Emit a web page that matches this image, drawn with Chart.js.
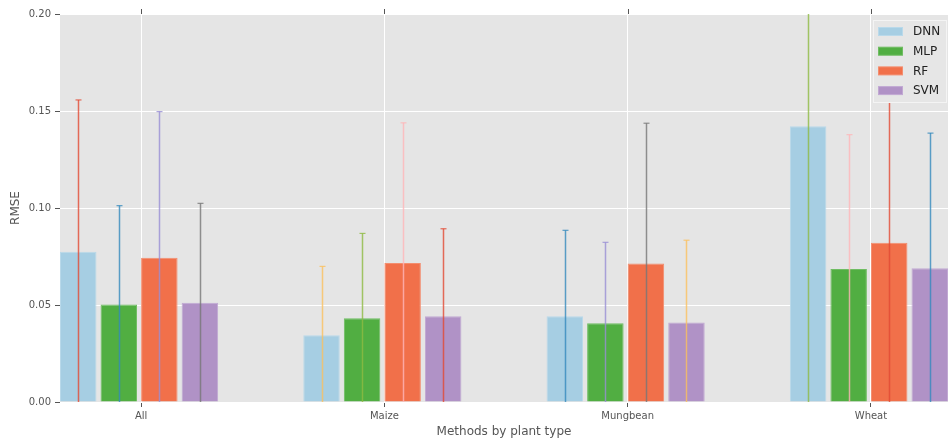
<!DOCTYPE html>
<html>
<head>
<meta charset="utf-8">
<script src="https://cdn.jsdelivr.net/npm/chart.js@4.4.1/dist/chart.umd.min.js"></script>
<style>
  html, body { margin: 0; padding: 0; background: #ffffff; }
  #wrap { width: 948px; height: 442px; position: relative; }
</style>
</head>
<body>
<div id="wrap"><canvas id="c" width="948" height="442"></canvas></div>
<script>
// ---- data ----
const categories = ['All', 'Maize', 'Mungbean', 'Wheat'];
const seriesNames = ['DNN', 'MLP', 'RF', 'SVM'];
const dnn = [0.0775, 0.0344, 0.0442, 0.1422];
const mlp = [0.0503, 0.0432, 0.0406, 0.0685];
const rf  = [0.0744, 0.0716, 0.0714, 0.0821];
const svm = [0.0511, 0.0442, 0.0410, 0.0690];
const dnnErr = [0.0782, 0.0355, 0.0443, 0.1450];
const mlpErr = [0.0509, 0.0437, 0.0417, 0.0693];
const rfErr  = [0.0753, 0.0723, 0.0723, 0.0830];
const svmErr = [0.0513, 0.0451, 0.0424, 0.0696];
const yTicks = [0.00, 0.05, 0.10, 0.15, 0.20];

// ---- styles ----
const fillColors = ['#a6cee3', '#51ae42', '#f1704a', '#b092c6'];
const edgeColors = ['#b9d9ea', '#6fbd62', '#f48d6e', '#c1a8d3'];
const errCycle = ['#E24A33', '#348ABD', '#988ED5', '#777777', '#FBC15E', '#8EBA42', '#FFB5B8'];
const values = [dnn, mlp, rf, svm];
const errors = [dnnErr, mlpErr, rfErr, svmErr];
const slot = 1 / 6;       // spacing between bars in a group (axis units)
const half = 0.075;       // half a bar width (axis units)

const datasets = seriesNames.map((name, k) => ({
  label: name,
  data: categories.map((c, i) => ({ x: i + k * slot + half, y: values[k][i] })),
  backgroundColor: fillColors[k],
  borderColor: edgeColors[k],
  borderWidth: 1,
  grouped: false,
  categoryPercentage: 1.0,
  barPercentage: 0.9
}));

const bgPlugin = {
  id: 'bg',
  beforeDraw(chart) {
    const { ctx, chartArea: a } = chart;
    ctx.save();
    ctx.fillStyle = '#ffffff';
    ctx.fillRect(0, 0, chart.width, chart.height);
    ctx.fillStyle = '#e5e5e5';
    ctx.fillRect(a.left, a.top, a.right - a.left, a.bottom - a.top);
    ctx.restore();
  }
};

const overlayPlugin = {
  id: 'overlay',
  afterDatasetsDraw(chart) {
    const { ctx, chartArea: a } = chart;
    const ys = chart.scales.y;
    ctx.save();
    ctx.beginPath();
    ctx.rect(a.left, a.top, a.right - a.left, a.bottom - a.top);
    ctx.clip();
    let n = 0;
    categories.forEach((c, i) => {
      seriesNames.forEach((s, k) => {
        const el = chart.getDatasetMeta(k).data[i];
        const x = Math.round(el.x) + 0.5;
        const v = values[k][i], e = errors[k][i];
        const yTop = ys.getPixelForValue(v + e);
        const yBot = ys.getPixelForValue(Math.max(0, v - e));
        ctx.strokeStyle = errCycle[n % errCycle.length];
        ctx.globalAlpha = 0.8;
        ctx.lineWidth = 1.5;
        ctx.beginPath();
        ctx.moveTo(x, yBot);
        ctx.lineTo(x, yTop);
        ctx.stroke();
        ctx.lineWidth = 1.2;
        ctx.beginPath();
        ctx.moveTo(x - 3, yTop);
        ctx.lineTo(x + 3, yTop);
        if (v - e >= 0) { ctx.moveTo(x - 3, yBot); ctx.lineTo(x + 3, yBot); }
        ctx.stroke();
        n++;
      });
    });
    ctx.restore();
  },
  afterDraw(chart) {
    const { ctx, chartArea: a } = chart;
    const xs = chart.scales.x;
    ctx.save();
    // top tick marks
    ctx.strokeStyle = '#555555';
    ctx.lineWidth = 1;
    categories.forEach((c, i) => {
      const x = Math.round(xs.getPixelForValue(i + 2 * slot)) + 0.5;
      ctx.beginPath();
      ctx.moveTo(x, a.top);
      ctx.lineTo(x, a.top - 5);
      ctx.stroke();
    });
    // axis titles
    ctx.fillStyle = '#555555';
    ctx.font = '12px "DejaVu Sans"';
    ctx.textAlign = 'center';
    ctx.textBaseline = 'middle';
    ctx.fillText('Methods by plant type', (a.left + a.right) / 2, 432);
    ctx.save();
    ctx.translate(16, (a.top + a.bottom) / 2);
    ctx.rotate(-Math.PI / 2);
    ctx.fillText('RMSE', 0, 0);
    ctx.restore();
    // legend
    const lx = 873.5, ly = 20.5, lw = 73, lh = 82;
    ctx.fillStyle = '#e6e6e6';
    ctx.fillRect(lx, ly, lw, lh);
    ctx.strokeStyle = '#f4f4f4';
    ctx.lineWidth = 1;
    ctx.strokeRect(lx, ly, lw, lh);
    ctx.font = '12px "DejaVu Sans"';
    ctx.textAlign = 'left';
    ctx.textBaseline = 'middle';
    seriesNames.forEach((s, k) => {
      const cy = 31.5 + k * 19.7;
      ctx.fillStyle = fillColors[k];
      ctx.fillRect(878.5, cy - 4, 24, 8);
      ctx.strokeStyle = edgeColors[k];
      ctx.strokeRect(878.5, cy - 4, 24, 8);
      ctx.fillStyle = '#222222';
      ctx.fillText(s, 913, cy + 0.5);
    });
    ctx.restore();
  }
};

new Chart(document.getElementById('c'), {
  type: 'bar',
  data: { datasets },
  options: {
    responsive: false,
    animation: false,
    layout: { padding: { top: 14, right: 0, left: 0, bottom: 0 } },
    plugins: { legend: { display: false }, tooltip: { enabled: false } },
    scales: {
      x: {
        type: 'linear',
        offset: false,
        min: 0,
        max: 3 + 3 * slot + 2 * half,
        afterBuildTicks(scale) {
          scale.ticks = categories.map((c, i) => ({ value: i + 2 * slot }));
        },
        afterFit(scale) { scale.height = 40; },
        border: { display: false },
        grid: { offset: false, color: '#ffffff', lineWidth: 1, tickColor: '#555555', tickLength: 5, drawTicks: true },
        ticks: {
          color: '#555555',
          font: { family: 'DejaVu Sans', size: 10 },
          padding: 3,
          maxRotation: 0,
          autoSkip: false,
          callback: (v, idx) => categories[idx]
        }
      },
      y: {
        min: 0,
        max: 0.2,
        afterBuildTicks(scale) {
          scale.ticks = yTicks.map(v => ({ value: v }));
        },
        afterFit(scale) { scale.width = 60; },
        border: { display: false },
        grid: { color: '#ffffff', lineWidth: 1, tickColor: '#555555', tickLength: 5 },
        ticks: {
          color: '#555555',
          font: { family: 'DejaVu Sans', size: 10 },
          padding: 4,
          callback: v => v.toFixed(2)
        }
      }
    }
  },
  plugins: [bgPlugin, overlayPlugin]
});
</script>
</body>
</html>
